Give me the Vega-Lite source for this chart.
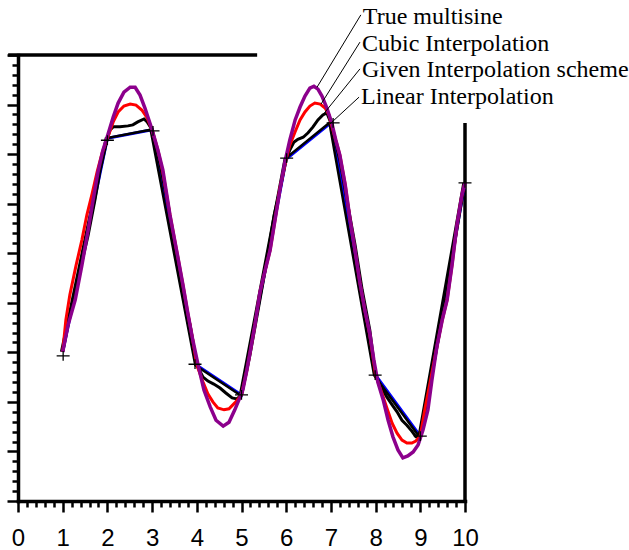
{
  "$schema": "https://vega.github.io/schema/vega-lite/v6.json",
  "autosize": {"type": "none"},
  "width": 447,
  "height": 446,
  "padding": {"left": 18, "top": 55, "right": 164, "bottom": 49},
  "background": "white",
  "config": {"view": {"stroke": null}},
  "datasets": {
    "curves": [
      {"s":"true","x":1.00,"y":3.01},{"s":"true","x":1.12,"y":3.55},{"s":"true","x":1.28,"y":4.06},{"s":"true","x":1.43,"y":4.76},{"s":"true","x":1.57,"y":5.47},{"s":"true","x":1.68,"y":6.07},{"s":"true","x":1.79,"y":6.64},{"s":"true","x":1.90,"y":7.08},{"s":"true","x":2.01,"y":7.39},{"s":"true","x":2.13,"y":7.75},{"s":"true","x":2.24,"y":8.03},{"s":"true","x":2.37,"y":8.25},{"s":"true","x":2.51,"y":8.35},{"s":"true","x":2.62,"y":8.35},{"s":"true","x":2.73,"y":8.19},{"s":"true","x":2.84,"y":7.93},{"s":"true","x":3.00,"y":7.49},{"s":"true","x":3.13,"y":7.08},{"s":"true","x":3.24,"y":6.68},{"s":"true","x":3.40,"y":5.77},{"s":"true","x":3.56,"y":5.00},{"s":"true","x":3.69,"y":4.36},{"s":"true","x":3.80,"y":3.79},{"s":"true","x":3.91,"y":3.25},{"s":"true","x":4.03,"y":2.74},{"s":"true","x":4.16,"y":2.24},{"s":"true","x":4.30,"y":1.90},{"s":"true","x":4.43,"y":1.63},{"s":"true","x":4.59,"y":1.51},{"s":"true","x":4.72,"y":1.59},{"s":"true","x":4.85,"y":1.84},{"s":"true","x":4.97,"y":2.10},{"s":"true","x":5.03,"y":2.24},{"s":"true","x":5.12,"y":2.64},{"s":"true","x":5.19,"y":2.99},{"s":"true","x":5.30,"y":3.55},{"s":"true","x":5.41,"y":4.20},{"s":"true","x":5.53,"y":4.66},{"s":"true","x":5.64,"y":5.06},{"s":"true","x":5.75,"y":5.67},{"s":"true","x":5.86,"y":6.28},{"s":"true","x":5.97,"y":6.84},{"s":"true","x":6.08,"y":7.28},{"s":"true","x":6.20,"y":7.69},{"s":"true","x":6.31,"y":7.95},{"s":"true","x":6.42,"y":8.17},{"s":"true","x":6.53,"y":8.33},{"s":"true","x":6.62,"y":8.37},{"s":"true","x":6.71,"y":8.31},{"s":"true","x":6.80,"y":8.17},{"s":"true","x":6.91,"y":7.93},{"s":"true","x":7.02,"y":7.63},{"s":"true","x":7.11,"y":7.28},{"s":"true","x":7.20,"y":6.98},{"s":"true","x":7.32,"y":6.38},{"s":"true","x":7.43,"y":5.67},{"s":"true","x":7.54,"y":5.06},{"s":"true","x":7.65,"y":4.40},{"s":"true","x":7.76,"y":3.85},{"s":"true","x":7.87,"y":3.39},{"s":"true","x":7.96,"y":2.85},{"s":"true","x":8.05,"y":2.40},{"s":"true","x":8.17,"y":2.04},{"s":"true","x":8.28,"y":1.63},{"s":"true","x":8.39,"y":1.29},{"s":"true","x":8.50,"y":1.03},{"s":"true","x":8.61,"y":0.87},{"s":"true","x":8.72,"y":0.91},{"s":"true","x":8.84,"y":0.99},{"s":"true","x":8.95,"y":1.13},{"s":"true","x":9.06,"y":1.43},{"s":"true","x":9.17,"y":1.84},{"s":"true","x":9.26,"y":2.44},{"s":"true","x":9.37,"y":3.11},{"s":"true","x":9.49,"y":3.65},{"s":"true","x":9.60,"y":4.06},{"s":"true","x":9.71,"y":4.76},{"s":"true","x":9.82,"y":5.57},{"s":"true","x":9.93,"y":6.17},{"s":"true","x":10.00,"y":6.42},
      {"s":"cubic","x":1.00,"y":3.01},{"s":"cubic","x":1.07,"y":3.65},{"s":"cubic","x":1.16,"y":4.16},{"s":"cubic","x":1.30,"y":4.76},{"s":"cubic","x":1.43,"y":5.27},{"s":"cubic","x":1.54,"y":5.77},{"s":"cubic","x":1.66,"y":6.21},{"s":"cubic","x":1.77,"y":6.64},{"s":"cubic","x":1.88,"y":7.02},{"s":"cubic","x":2.00,"y":7.32},{"s":"cubic","x":2.13,"y":7.65},{"s":"cubic","x":2.24,"y":7.85},{"s":"cubic","x":2.37,"y":7.97},{"s":"cubic","x":2.51,"y":8.01},{"s":"cubic","x":2.64,"y":7.99},{"s":"cubic","x":2.77,"y":7.89},{"s":"cubic","x":2.89,"y":7.73},{"s":"cubic","x":3.00,"y":7.49},{"s":"cubic","x":3.13,"y":7.08},{"s":"cubic","x":3.24,"y":6.64},{"s":"cubic","x":3.40,"y":5.77},{"s":"cubic","x":3.56,"y":5.00},{"s":"cubic","x":3.69,"y":4.36},{"s":"cubic","x":3.80,"y":3.79},{"s":"cubic","x":3.91,"y":3.25},{"s":"cubic","x":4.00,"y":2.74},{"s":"cubic","x":4.14,"y":2.40},{"s":"cubic","x":4.25,"y":2.16},{"s":"cubic","x":4.36,"y":2.00},{"s":"cubic","x":4.47,"y":1.88},{"s":"cubic","x":4.61,"y":1.84},{"s":"cubic","x":4.72,"y":1.86},{"s":"cubic","x":4.85,"y":1.98},{"s":"cubic","x":5.00,"y":2.14},{"s":"cubic","x":5.12,"y":2.64},{"s":"cubic","x":5.19,"y":2.99},{"s":"cubic","x":5.30,"y":3.55},{"s":"cubic","x":5.41,"y":4.20},{"s":"cubic","x":5.53,"y":4.66},{"s":"cubic","x":5.64,"y":5.06},{"s":"cubic","x":5.75,"y":5.67},{"s":"cubic","x":5.86,"y":6.32},{"s":"cubic","x":6.00,"y":6.90},{"s":"cubic","x":6.08,"y":7.18},{"s":"cubic","x":6.20,"y":7.45},{"s":"cubic","x":6.31,"y":7.69},{"s":"cubic","x":6.42,"y":7.85},{"s":"cubic","x":6.53,"y":7.97},{"s":"cubic","x":6.64,"y":8.03},{"s":"cubic","x":6.76,"y":8.01},{"s":"cubic","x":6.87,"y":7.93},{"s":"cubic","x":6.96,"y":7.79},{"s":"cubic","x":7.00,"y":7.63},{"s":"cubic","x":7.11,"y":7.28},{"s":"cubic","x":7.20,"y":6.98},{"s":"cubic","x":7.32,"y":6.38},{"s":"cubic","x":7.43,"y":5.67},{"s":"cubic","x":7.54,"y":5.06},{"s":"cubic","x":7.65,"y":4.40},{"s":"cubic","x":7.76,"y":3.85},{"s":"cubic","x":7.87,"y":3.35},{"s":"cubic","x":8.00,"y":2.54},{"s":"cubic","x":8.14,"y":2.18},{"s":"cubic","x":8.25,"y":1.88},{"s":"cubic","x":8.37,"y":1.57},{"s":"cubic","x":8.48,"y":1.37},{"s":"cubic","x":8.59,"y":1.23},{"s":"cubic","x":8.70,"y":1.17},{"s":"cubic","x":8.81,"y":1.17},{"s":"cubic","x":8.90,"y":1.21},{"s":"cubic","x":9.00,"y":1.31},{"s":"cubic","x":9.10,"y":1.84},{"s":"cubic","x":9.22,"y":2.40},{"s":"cubic","x":9.37,"y":3.11},{"s":"cubic","x":9.49,"y":3.65},{"s":"cubic","x":9.60,"y":4.06},{"s":"cubic","x":9.71,"y":4.76},{"s":"cubic","x":9.82,"y":5.57},{"s":"cubic","x":9.93,"y":6.17},{"s":"cubic","x":10.00,"y":6.42},
      {"s":"given","x":1.00,"y":3.01},{"s":"given","x":1.16,"y":3.75},{"s":"given","x":1.30,"y":4.26},{"s":"given","x":1.43,"y":4.82},{"s":"given","x":1.57,"y":5.37},{"s":"given","x":1.72,"y":6.07},{"s":"given","x":1.83,"y":6.64},{"s":"given","x":2.00,"y":7.32},{"s":"given","x":2.06,"y":7.49},{"s":"given","x":2.13,"y":7.55},{"s":"given","x":2.28,"y":7.55},{"s":"given","x":2.46,"y":7.57},{"s":"given","x":2.57,"y":7.59},{"s":"given","x":2.68,"y":7.65},{"s":"given","x":2.82,"y":7.71},{"s":"given","x":2.89,"y":7.65},{"s":"given","x":3.00,"y":7.49},{"s":"given","x":3.18,"y":6.78},{"s":"given","x":3.36,"y":5.97},{"s":"given","x":3.51,"y":5.06},{"s":"given","x":3.67,"y":4.26},{"s":"given","x":3.85,"y":3.55},{"s":"given","x":4.00,"y":2.74},{"s":"given","x":4.14,"y":2.50},{"s":"given","x":4.25,"y":2.42},{"s":"given","x":4.38,"y":2.36},{"s":"given","x":4.52,"y":2.28},{"s":"given","x":4.65,"y":2.18},{"s":"given","x":4.79,"y":2.08},{"s":"given","x":4.90,"y":2.06},{"s":"given","x":5.00,"y":2.14},{"s":"given","x":5.19,"y":2.95},{"s":"given","x":5.37,"y":3.85},{"s":"given","x":5.55,"y":4.76},{"s":"given","x":5.73,"y":5.77},{"s":"given","x":5.86,"y":6.28},{"s":"given","x":6.00,"y":6.90},{"s":"given","x":6.08,"y":7.08},{"s":"given","x":6.17,"y":7.24},{"s":"given","x":6.26,"y":7.30},{"s":"given","x":6.38,"y":7.34},{"s":"given","x":6.49,"y":7.43},{"s":"given","x":6.60,"y":7.55},{"s":"given","x":6.71,"y":7.69},{"s":"given","x":6.82,"y":7.79},{"s":"given","x":6.91,"y":7.83},{"s":"given","x":7.00,"y":7.63},{"s":"given","x":7.20,"y":6.88},{"s":"given","x":7.38,"y":5.97},{"s":"given","x":7.54,"y":5.17},{"s":"given","x":7.70,"y":4.26},{"s":"given","x":7.87,"y":3.45},{"s":"given","x":8.00,"y":2.54},{"s":"given","x":8.14,"y":2.28},{"s":"given","x":8.25,"y":2.10},{"s":"given","x":8.37,"y":1.94},{"s":"given","x":8.48,"y":1.80},{"s":"given","x":8.59,"y":1.63},{"s":"given","x":8.70,"y":1.53},{"s":"given","x":8.81,"y":1.41},{"s":"given","x":8.90,"y":1.30},{"s":"given","x":9.00,"y":1.31},{"s":"given","x":9.15,"y":2.04},{"s":"given","x":9.28,"y":2.64},{"s":"given","x":9.44,"y":3.45},{"s":"given","x":9.60,"y":4.26},{"s":"given","x":9.78,"y":5.27},{"s":"given","x":9.89,"y":5.87},{"s":"given","x":10.00,"y":6.42}
    ],
    "samples": [
      {"x":1,"y":3.01},{"x":2,"y":7.32},{"x":3,"y":7.49},{"x":4,"y":2.74},{"x":5,"y":2.14},
      {"x":6,"y":6.90},{"x":7,"y":7.63},{"x":8,"y":2.54},{"x":9,"y":1.31},{"x":10,"y":6.42}
    ],
    "plus": [
      {"x":1.01,"y":2.93},{"x":2,"y":7.28},{"x":3.02,"y":7.47},{"x":3.96,"y":2.76},{"x":5,"y":2.14},
      {"x":6.01,"y":6.92},{"x":7.05,"y":7.63},{"x":7.99,"y":2.54},{"x":9,"y":1.31},{"x":10,"y":6.42}
    ],
    "frame": [
      {"x":-0.22,"x2":5.35,"y":9,"y2":9},
      {"x":10,"x2":10,"y":0,"y2":7.63}
    ],
    "leaders": [
      {"label":"True multisine","x":7.67,"y":9.81,"x2":6.69,"y2":8.35,"ty":9.62},
      {"label":"Cubic Interpolation","x":7.65,"y":9.26,"x2":6.78,"y2":8.01,"ty":9.08},
      {"label":"Given Interpolation scheme","x":7.65,"y":8.72,"x2":6.80,"y2":7.77,"ty":8.56},
      {"label":"Linear Interpolation","x":7.63,"y":8.15,"x2":6.98,"y2":7.61,"ty":8.01}
    ]
  },
  "encoding": {
    "x": {
      "field": "x", "type": "quantitative",
      "scale": {"domain": [0, 10], "nice": false, "zero": false},
      "axis": {
        "title": null, "grid": false,
        "values": [0,0.2,0.4,0.6,0.8,1,1.2,1.4,1.6,1.8,2,2.2,2.4,2.6,2.8,3,3.2,3.4,3.6,3.8,4,4.2,4.4,4.6,4.8,5,5.2,5.4,5.6,5.8,6,6.2,6.4,6.6,6.8,7,7.2,7.4,7.6,7.8,8,8.2,8.4,8.6,8.8,9,9.2,9.4,9.6,9.8,10],
        "tickSize": {"condition": {"test": "abs(datum.value - round(datum.value)) < 0.01", "value": 11}, "value": 6},
        "labelExpr": "abs(datum.value - round(datum.value)) < 0.01 ? format(datum.value, 'd') : ''",
        "labelOverlap": false, "labelFlush": false, "labelBound": false,
        "domainColor": "black", "domainWidth": 3.5, "domainCap": "square",
        "tickColor": "black", "tickWidth": 2.5,
        "labelFont": "Liberation Sans", "labelFontSize": 24, "labelColor": "black", "labelPadding": 14
      }
    },
    "y": {
      "field": "y", "type": "quantitative",
      "scale": {"domain": [0, 9], "nice": false, "zero": false},
      "axis": {
        "title": null, "grid": false, "labels": false,
        "values": [0,0.2,0.4,0.6,0.8,1,1.2,1.4,1.6,1.8,2,2.2,2.4,2.6,2.8,3,3.2,3.4,3.6,3.8,4,4.2,4.4,4.6,4.8,5,5.2,5.4,5.6,5.8,6,6.2,6.4,6.6,6.8,7,7.2,7.4,7.6,7.8,8,8.2,8.4,8.6,8.8,9],
        "tickSize": {"condition": {"test": "abs(datum.value - round(datum.value)) < 0.01", "value": 11}, "value": 6},
        "domainColor": "black", "domainWidth": 3.5, "domainCap": "square",
        "tickColor": "black", "tickWidth": 2.5
      }
    }
  },
  "layer": [
    {
      "data": {"name": "frame"},
      "mark": {"type": "rule", "color": "black", "strokeWidth": 3.5},
      "encoding": {"x2": {"field": "x2"}, "y2": {"field": "y2"}}
    },
    {
      "data": {"name": "samples"},
      "mark": {"type": "line", "color": "#0000ff", "strokeWidth": 3},
      "encoding": {}
    },
    {
      "data": {"name": "samples"},
      "mark": {"type": "line", "color": "black", "strokeWidth": 2.5, "xOffset": -1.5},
      "encoding": {}
    },
    {
      "data": {"name": "curves"},
      "transform": [{"filter": "datum.s === 'given'"}],
      "mark": {"type": "line", "color": "black", "strokeWidth": 3},
      "encoding": {}
    },
    {
      "data": {"name": "curves"},
      "transform": [{"filter": "datum.s === 'cubic'"}],
      "mark": {"type": "line", "color": "#ff0000", "strokeWidth": 3},
      "encoding": {}
    },
    {
      "data": {"name": "curves"},
      "transform": [{"filter": "datum.s === 'true'"}],
      "mark": {"type": "line", "color": "#8c008c", "strokeWidth": 3.5},
      "encoding": {}
    },
    {
      "data": {"name": "plus"},
      "mark": {"type": "point", "shape": "M-1,0L1,0M0,-0.75L0,0.75", "size": 169, "filled": false, "stroke": "black", "strokeWidth": 1.3, "opacity": 1},
      "encoding": {}
    },
    {
      "data": {"name": "leaders"},
      "mark": {"type": "rule", "color": "black", "strokeWidth": 1},
      "encoding": {"x2": {"field": "x2"}, "y2": {"field": "y2"}}
    },
    {
      "data": {"name": "leaders"},
      "mark": {"type": "text", "align": "left", "baseline": "alphabetic", "font": "Liberation Serif", "fontSize": 24, "color": "black", "dx": 2},
      "encoding": {
        "y": {"field": "ty", "type": "quantitative"},
        "text": {"field": "label"}
      }
    }
  ]
}
